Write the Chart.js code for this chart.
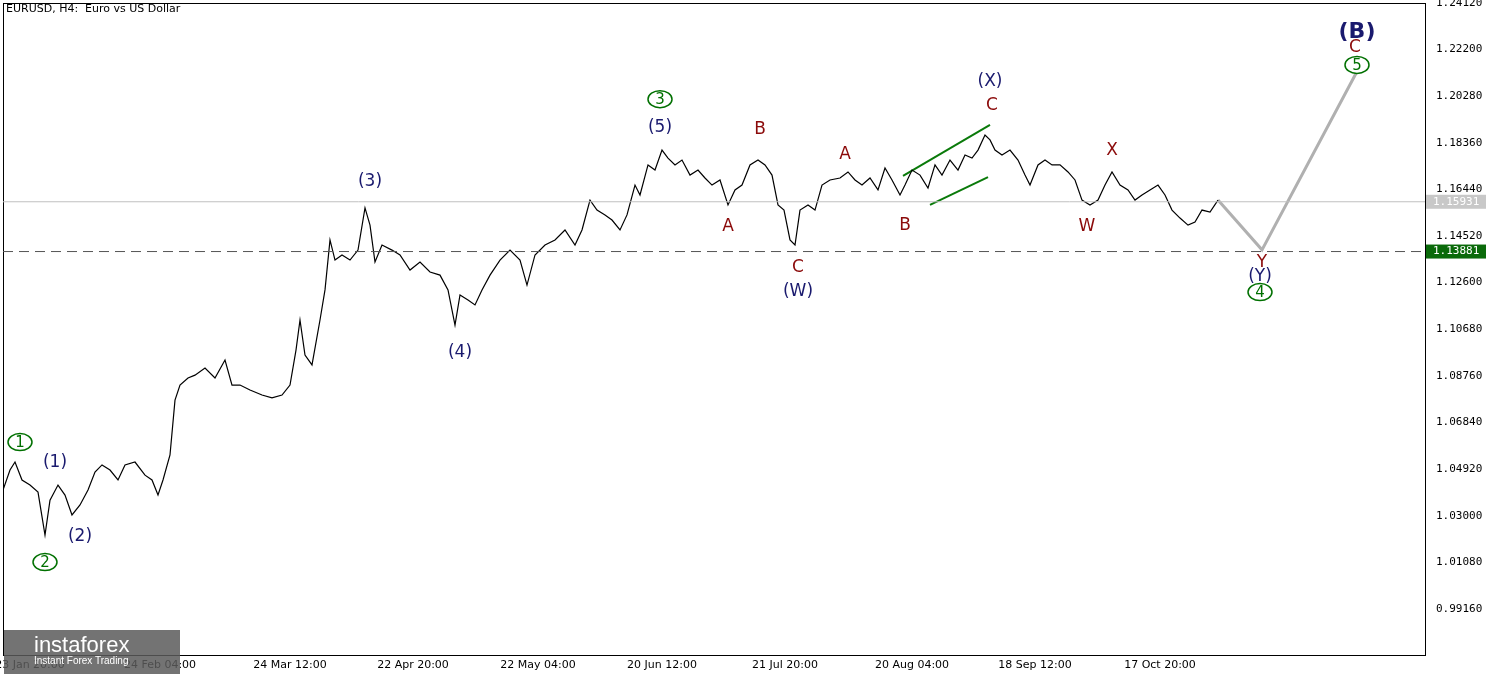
<!DOCTYPE html>
<html>
<head>
<meta charset="utf-8">
<script src="https://cdn.jsdelivr.net/npm/chart.js@4"></script>
<style>
  body { margin: 0; background: #fff; }
  #wrap { width: 1500px; height: 675px; position: relative; }
  .title { position: absolute; left: 6px; top: 2px; font: 11px "DejaVu Sans", sans-serif; color: #000; }
  .logo { position: absolute; left: 4px; top: 630px; width: 176px; height: 44px; background: rgba(90,90,90,0.85); color: #fff; font: 22px "Liberation Sans", sans-serif; padding: 2px 0 0 30px; box-sizing: border-box; }
  .logo small { display: block; font-size: 10px; margin-top: -3px; }
</style>
</head>
<body>
<div id="wrap">
  <canvas id="c" width="1500" height="675"></canvas>
  <div class="title">EURUSD, H4:&nbsp; Euro vs US Dollar</div>
  <div class="logo">instaforex<small>Instant Forex Trading</small></div>
</div>
<script>
// bar position (x) and close price
const barPos = [3,10,15,22,30,38,45,50,58,65,72,80,88,95,102,110,118,125,135,145,152,158,163,170,175,180,188,195,205,215,225,232,240,250,262,272,282,290,296,300,305,312,320,325,330,335,342,350,358,365,370,375,382,392,400,410,420,430,440,448,455,460,468,475,482,490,500,510,520,527,535,545,555,565,575,582,590,597,605,612,620,627,635,640,648,655,662,668,675,682,690,698,705,712,720,728,735,742,750,758,765,772,778,784,790,795,800,808,815,822,830,840,848,855,862,870,878,885,892,900,905,912,920,928,935,942,950,958,965,972,978,985,990,995,1002,1010,1018,1025,1030,1038,1045,1052,1060,1068,1075,1082,1090,1098,1105,1112,1120,1128,1135,1142,1150,1158,1165,1172,1180,1188,1195,1202,1210,1218];
const closes = [1.0406,1.0488,1.0521,1.0447,1.0426,1.0397,1.0220,1.0364,1.0426,1.0385,1.0303,1.0344,1.0406,1.0480,1.0509,1.0488,1.0447,1.0509,1.0521,1.0467,1.0447,1.0385,1.0447,1.0550,1.0776,1.0838,1.0867,1.0879,1.0908,1.0867,1.0941,1.0838,1.0838,1.0818,1.0797,1.0785,1.0797,1.0838,1.0982,1.1106,1.0962,1.0921,1.1106,1.1230,1.1436,1.1353,1.1374,1.1353,1.1394,1.1568,1.1497,1.1345,1.1415,1.1394,1.1374,1.1312,1.1345,1.1304,1.1291,1.1230,1.1085,1.1209,1.1188,1.1168,1.1230,1.1291,1.1353,1.1394,1.1353,1.1250,1.1374,1.1415,1.1436,1.1477,1.1415,1.1477,1.1600,1.1559,1.1539,1.1518,1.1477,1.1539,1.1662,1.1621,1.1745,1.1724,1.1806,1.1773,1.1745,1.1765,1.1703,1.1724,1.1691,1.1662,1.1683,1.1580,1.1642,1.1662,1.1745,1.1765,1.1745,1.1703,1.1580,1.1559,1.1436,1.1415,1.1559,1.1580,1.1559,1.1662,1.1683,1.1691,1.1716,1.1683,1.1662,1.1691,1.1642,1.1732,1.1683,1.1621,1.1662,1.1724,1.1703,1.1650,1.1745,1.1703,1.1765,1.1724,1.1786,1.1773,1.1806,1.1868,1.1848,1.1806,1.1786,1.1806,1.1765,1.1703,1.1662,1.1745,1.1765,1.1745,1.1745,1.1716,1.1683,1.1600,1.1580,1.1600,1.1662,1.1716,1.1662,1.1642,1.1600,1.1621,1.1642,1.1662,1.1621,1.1559,1.1526,1.1497,1.1510,1.1559,1.1551,1.1600];
const forecastPos = [1218,1262,1357];
const forecastVals = [1.1600,1.1395,1.2130];
const wedgeUpper = [[903,1.1700],[990,1.1910]];
const wedgeLower = [[930,1.1580],[988,1.1695]];
const currentPrice = 1.15931;
const levelPrice = 1.13881;
const yTicks = [1.24120,1.22200,1.20280,1.18360,1.16440,1.14520,1.12600,1.10680,1.08760,1.06840,1.04920,1.03000,1.01080,0.99160];
const xTickPos = [30,160,290,413,538,662,785,912,1035,1160];
const xTickLabels = ['23 Jan 20:00','24 Feb 04:00','24 Mar 12:00','22 Apr 20:00','22 May 04:00','20 Jun 12:00','21 Jul 20:00','20 Aug 04:00','18 Sep 12:00','17 Oct 20:00'];
// wave labels: [text, x, price, kind]
const waveLabels = [
  ['1',20,1.0603,'g'],['2',45,1.0109,'g'],['3',660,1.2016,'g'],['4',1260,1.1221,'g'],['5',1357,1.2157,'g'],
  ['(1)',55,1.0517,'n'],['(2)',80,1.0212,'n'],['(3)',370,1.1675,'n'],['(4)',460,1.0970,'n'],['(5)',660,1.1897,'n'],
  ['(W)',798,1.1225,'n'],['(X)',990,1.2087,'n'],['(Y)',1260,1.1283,'n'],['(B)',1357,1.2293,'N'],
  ['A',728,1.1489,'r'],['B',760,1.1889,'r'],['C',798,1.1324,'r'],['A',845,1.1786,'r'],['B',905,1.1497,'r'],
  ['C',992,1.1988,'r'],['X',1112,1.1802,'r'],['W',1087,1.1489,'r'],['Y',1262,1.1341,'r'],['C',1355,1.2227,'r']
];

const extras = {
  id: 'extras',
  afterDatasetsDraw(chart) {
    const { ctx, scales: { x, y }, chartArea: a } = chart;
    ctx.save();
    ctx.strokeStyle = '#000'; ctx.lineWidth = 1;
    ctx.strokeRect(a.left + 0.5, a.top + 0.5, a.right - a.left, a.bottom - a.top);
    ctx.strokeStyle = '#c0c0c0';
    ctx.beginPath(); ctx.moveTo(a.left, y.getPixelForValue(currentPrice)); ctx.lineTo(a.right, y.getPixelForValue(currentPrice)); ctx.stroke();
    ctx.strokeStyle = '#555'; ctx.setLineDash([10, 6]);
    ctx.beginPath(); ctx.moveTo(a.left, y.getPixelForValue(levelPrice)); ctx.lineTo(a.right, y.getPixelForValue(levelPrice)); ctx.stroke();
    ctx.setLineDash([]);
    ctx.textAlign = 'center'; ctx.textBaseline = 'middle';
    for (const [t, px, pr, k] of waveLabels) {
      const cx = x.getPixelForValue(px), cy = y.getPixelForValue(pr);
      if (k === 'g') {
        ctx.fillStyle = '#fff'; ctx.strokeStyle = '#007000'; ctx.lineWidth = 1.5;
        ctx.beginPath(); ctx.ellipse(cx, cy, 12, 8.5, 0, 0, Math.PI * 2); ctx.fill(); ctx.stroke();
        ctx.fillStyle = '#007000'; ctx.font = '15px "DejaVu Sans"'; ctx.fillText(t, cx, cy + 1);
      } else if (k === 'N') {
        ctx.fillStyle = '#1a1a6e'; ctx.font = 'bold 22px "DejaVu Sans"'; ctx.fillText(t, cx, cy);
      } else {
        ctx.fillStyle = k === 'n' ? '#1a1a6e' : '#8b0a0a';
        ctx.font = '17px "DejaVu Sans"'; ctx.fillText(t, cx, cy);
      }
    }
    const box = (v, bg, fg) => {
      const py = y.getPixelForValue(v);
      ctx.fillStyle = bg; ctx.fillRect(a.right + 1, py - 7, 60, 14);
      ctx.fillStyle = fg; ctx.font = '11px "DejaVu Sans Mono"'; ctx.textAlign = 'left';
      ctx.fillText(v.toFixed(5), a.right + 8, py);
    };
    box(currentPrice, '#c8c8c8', '#fff');
    box(levelPrice, '#0a6a0a', '#fff');
    ctx.restore();
  }
};

const seg = (pts) => pts.map(p => ({ x: p[0], y: p[1] }));

new Chart(document.getElementById('c'), {
  type: 'line',
  data: {
    datasets: [
      { data: barPos.map((p, i) => ({ x: p, y: closes[i] })), borderColor: '#000', borderWidth: 1.2, pointRadius: 0, tension: 0 },
      { data: forecastPos.map((p, i) => ({ x: p, y: forecastVals[i] })), borderColor: '#b0b0b0', borderWidth: 3, pointRadius: 0 },
      { data: seg(wedgeUpper), borderColor: '#0a7a0a', borderWidth: 2, pointRadius: 0 },
      { data: seg(wedgeLower), borderColor: '#0a7a0a', borderWidth: 2, pointRadius: 0 }
    ]
  },
  options: {
    responsive: false, animation: false,
    layout: { padding: { top: 3, left: 3, right: 0, bottom: 0 } },
    plugins: { legend: { display: false }, tooltip: { enabled: false } },
    scales: {
      x: {
        type: 'linear', min: 3, max: 1425,
        grid: { display: false }, border: { color: '#000' },
        afterBuildTicks: (s) => { s.ticks = xTickPos.map(v => ({ value: v })); },
        afterFit: (s) => { s.height = 20; s.paddingLeft = 0; s.paddingRight = 0; },
        ticks: { autoSkip: false, maxRotation: 0, padding: -4, color: '#000', font: { size: 11, family: 'DejaVu Sans' },
          callback: (v) => xTickLabels[xTickPos.indexOf(v)] }
      },
      y: {
        position: 'right', min: 0.9726, max: 1.2412,
        grid: { display: false }, border: { color: '#000' },
        afterBuildTicks: (s) => { s.ticks = yTicks.map(v => ({ value: v })); },
        afterFit: (s) => { s.width = 75; s.paddingTop = 0; s.paddingBottom = 0; },
        ticks: { color: '#000', font: { size: 11, family: 'DejaVu Sans Mono' }, callback: (v) => v.toFixed(5) }
      }
    }
  },
  plugins: [extras]
});
</script>
</body>
</html>
